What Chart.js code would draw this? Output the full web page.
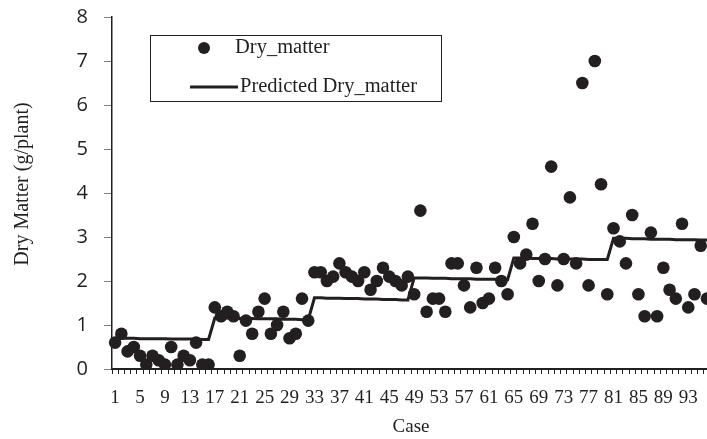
<!DOCTYPE html>
<html>
<head>
<meta charset="utf-8">
<script src="https://cdn.jsdelivr.net/npm/chart.js@4.4.1/dist/chart.umd.min.js"></script>
<style>
  html, body { margin: 0; padding: 0; background: #ffffff; overflow: hidden; }
  #wrap { position: relative; width: 720px; height: 439px; }
</style>
</head>
<body>
<div id="wrap"><canvas id="chart" width="720" height="439"></canvas></div>
<script>
// Case numbers along the x axis
const cases = [
  '1','2','3','4','5','6','7','8','9','10','11','12','13','14','15','16',
  '17','18','19','20','21','22','23','24','25','26','27','28','29','30','31','32',
  '33','34','35','36','37','38','39','40','41','42','43','44','45','46','47','48',
  '49','50','51','52','53','54','55','56','57','58','59','60','61','62','63','64',
  '65','66','67','68','69','70','71','72','73','74','75','76','77','78','79','80',
  '81','82','83','84','85','86','87','88','89','90','91','92','93','94','95','96'
];

// Observed dry matter per case (g/plant)
const dryMatter = [
  0.6, 0.8, 0.4, 0.5, 0.3, 0.1, 0.3, 0.2, 0.1, 0.5, 0.1, 0.3, 0.2, 0.6, 0.1, 0.1,
  1.4, 1.2, 1.3, 1.2, 0.3, 1.1, 0.8, 1.3, 1.6, 0.8, 1.0, 1.3, 0.7, 0.8, 1.6, 1.1,
  2.2, 2.2, 2.0, 2.1, 2.4, 2.2, 2.1, 2.0, 2.2, 1.8, 2.0, 2.3, 2.1, 2.0, 1.9, 2.1,
  1.7, 3.6, 1.3, 1.6, 1.6, 1.3, 2.4, 2.4, 1.9, 1.4, 2.3, 1.5, 1.6, 2.3, 2.0, 1.7,
  3.0, 2.4, 2.6, 3.3, 2.0, 2.5, 4.6, 1.9, 2.5, 3.9, 2.4, 6.5, 1.9, 7.0, 4.2, 1.7,
  3.2, 2.9, 2.4, 3.5, 1.7, 1.2, 3.1, 1.2, 2.3, 1.8, 1.6, 3.3, 1.4, 1.7, 2.8, 1.6
];

// Model-predicted dry matter per case (g/plant)
const predictedDryMatter = [
  0.70, 0.70, 0.70, 0.70, 0.69, 0.69, 0.69, 0.69, 0.69, 0.68, 0.68, 0.68, 0.68, 0.68, 0.67, 0.67,
  1.16, 1.16, 1.16, 1.15, 1.15, 1.15, 1.15, 1.14, 1.14, 1.14, 1.14, 1.13, 1.13, 1.13, 1.12, 1.12,
  1.62, 1.62, 1.61, 1.61, 1.61, 1.60, 1.60, 1.60, 1.59, 1.59, 1.59, 1.58, 1.58, 1.58, 1.57, 1.57,
  2.07, 2.07, 2.07, 2.06, 2.06, 2.06, 2.05, 2.05, 2.05, 2.05, 2.04, 2.04, 2.04, 2.04, 2.03, 2.03,
  2.52, 2.52, 2.52, 2.51, 2.51, 2.51, 2.51, 2.50, 2.50, 2.50, 2.50, 2.50, 2.49, 2.49, 2.49, 2.49,
  2.97, 2.97, 2.97, 2.96, 2.96, 2.96, 2.95, 2.95, 2.95, 2.95, 2.94, 2.94, 2.94, 2.94, 2.93, 2.93
];

// Y axis ticks (g/plant)
const yTicks = [0, 1, 2, 3, 4, 5, 6, 7, 8];

const INK = '#231f20';
const SERIF = "'Liberation Serif', 'Times New Roman', serif";
const SANS = "'Open Sans', 'Liberation Sans', sans-serif";

// Boxed legend inside the plot area plus the rotated y-axis title
const decorations = {
  id: 'decorations',
  afterDraw(chart) {
    const ctx = chart.ctx;
    const a = chart.chartArea;
    const ds = chart.data.datasets;
    ctx.save();

    // legend frame
    const bx = a.left + 38, by = a.top + 18, bw = 291, bh = 66;
    ctx.strokeStyle = INK;
    ctx.lineWidth = 1;
    ctx.strokeRect(Math.round(bx) + 0.5, Math.round(by) + 0.5, bw, bh);

    ctx.font = '20.5px ' + SERIF;
    ctx.fillStyle = INK;
    ctx.textBaseline = 'middle';
    ctx.textAlign = 'left';

    // observed series entry
    ctx.beginPath();
    ctx.arc(a.left + 92, a.top + 31, 6, 0, Math.PI * 2);
    ctx.fill();
    ctx.fillText(ds[0].label, a.left + 123, a.top + 31);

    // predicted series entry
    ctx.beginPath();
    ctx.moveTo(a.left + 78, a.top + 70);
    ctx.lineTo(a.left + 126, a.top + 70);
    ctx.lineWidth = 3;
    ctx.strokeStyle = INK;
    ctx.stroke();
    ctx.fillText(ds[1].label, a.left + 128, a.top + 70);

    // y-axis title
    ctx.translate(23, 184);
    ctx.rotate(-Math.PI / 2);
    ctx.textAlign = 'center';
    ctx.font = '20px ' + SERIF;
    ctx.fillText('Dry Matter (g/plant)', 0, 0);

    ctx.restore();
  }
};

new Chart(document.getElementById('chart'), {
  type: 'line',
  data: {
    labels: cases,
    datasets: [
      {
        label: 'Dry_matter',
        data: dryMatter,
        showLine: false,
        pointRadius: 6.3,
        pointHoverRadius: 6.3,
        pointBackgroundColor: INK,
        pointBorderColor: INK,
        pointBorderWidth: 0,
        order: 0
      },
      {
        label: 'Predicted Dry_matter',
        data: predictedDryMatter,
        borderColor: INK,
        borderWidth: 3,
        tension: 0,
        pointRadius: 0,
        fill: false,
        order: 1
      }
    ]
  },
  options: {
    responsive: false,
    animation: false,
    layout: { padding: { top: 17, right: 8, bottom: 0, left: 0 } },
    plugins: {
      legend: { display: false },
      tooltip: { enabled: false }
    },
    scales: {
      x: {
        type: 'category',
        offset: true,
        grid: {
          offset: true,
          drawOnChartArea: false,
          drawTicks: true,
          tickLength: 5,
          color: INK,
          lineWidth: 1
        },
        border: { display: true, color: INK, width: 2 },
        ticks: {
          autoSkip: false,
          maxRotation: 0,
          minRotation: 0,
          padding: 13,
          color: INK,
          font: { family: SERIF, size: 19 },
          callback(value, index) {
            return index % 4 === 0 ? this.getLabelForValue(value) : '';
          }
        },
        title: {
          display: true,
          text: 'Case',
          color: INK,
          font: { family: SERIF, size: 19 },
          padding: { top: 0, bottom: 1 }
        },
        afterFit(scale) { scale.height = 70; }
      },
      y: {
        min: yTicks[0],
        max: yTicks[yTicks.length - 1],
        afterBuildTicks(scale) { scale.ticks = yTicks.map(v => ({ value: v })); },
        grid: {
          drawOnChartArea: false,
          drawTicks: true,
          tickLength: 8,
          color: '#808080',
          lineWidth: 1
        },
        border: { display: true, color: INK, width: 1.5 },
        ticks: {
          padding: 16,
          color: INK,
          font: { family: SANS, size: 20 }
        },
        afterFit(scale) {
          scale.width = 112;
          scale.paddingTop = 0;
          scale.paddingBottom = 0;
        }
      }
    }
  },
  plugins: [decorations]
});
</script>
</body>
</html>
